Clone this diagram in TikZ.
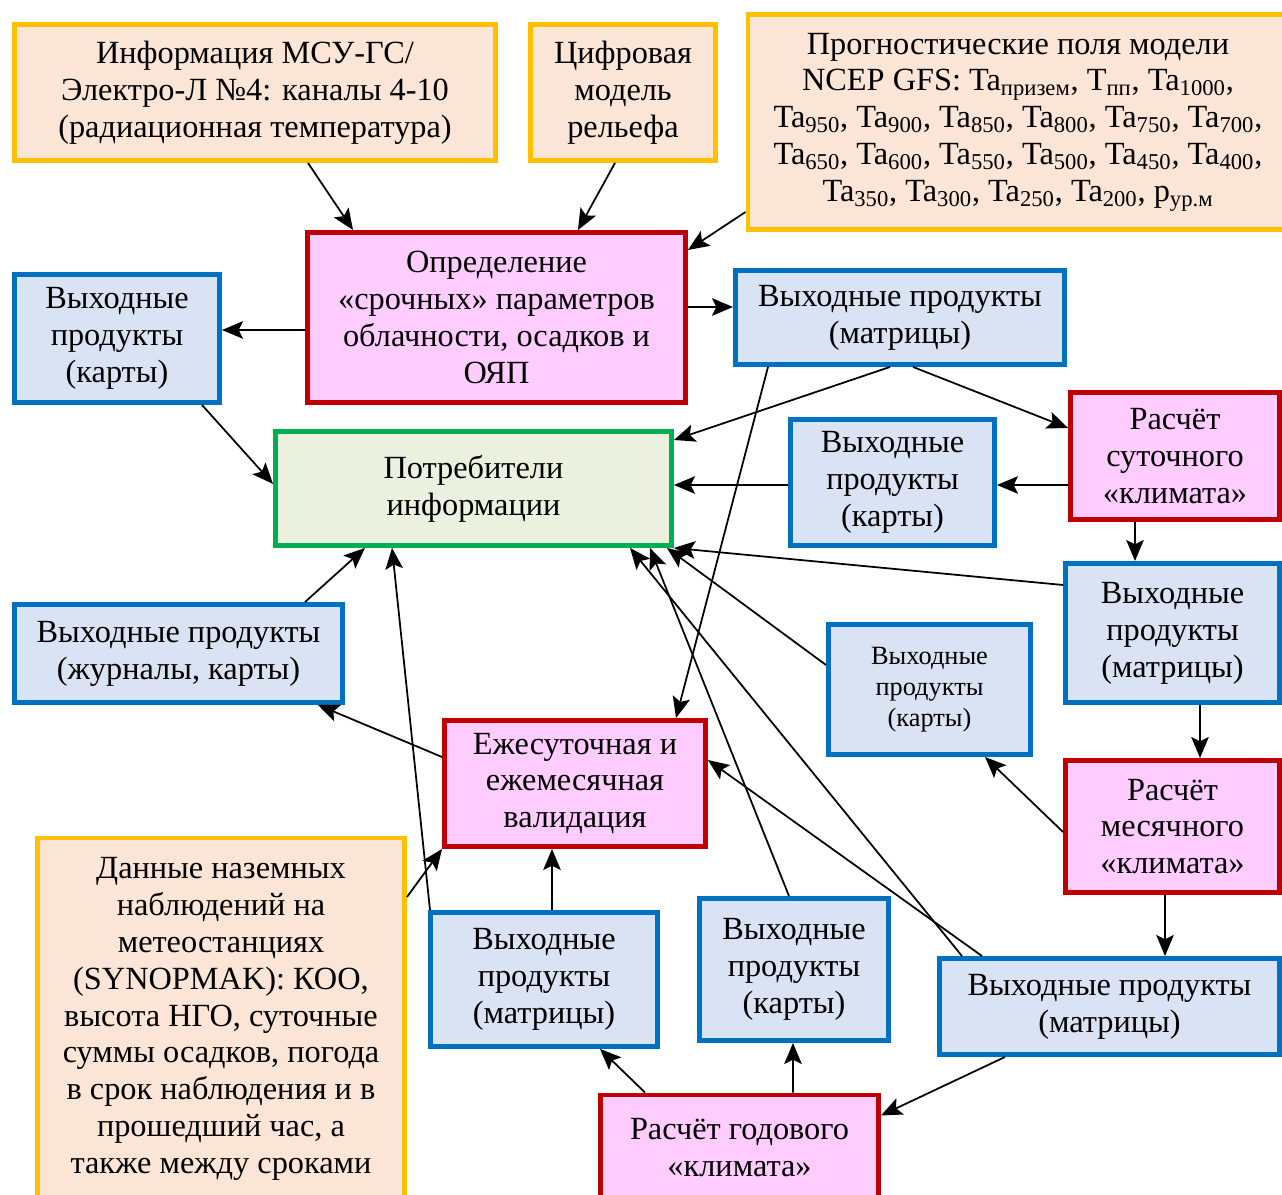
\documentclass[tikz,border=0pt]{standalone}
\usepackage{fontspec}
\setmainfont{Liberation Serif}
\usetikzlibrary{arrows.meta,calc}
\definecolor{srcline}{HTML}{FFC000}
\definecolor{srcfill}{HTML}{FBE5D6}
\definecolor{procline}{HTML}{C00000}
\definecolor{procfill}{HTML}{FFCCFF}
\definecolor{prodline}{HTML}{0070C0}
\definecolor{prodfill}{HTML}{DAE3F3}
\definecolor{userline}{HTML}{00B050}
\definecolor{userfill}{HTML}{EBF1DE}
\newcommand\subs[1]{\textsubscript{#1}}

\begin{document}
\begin{tikzpicture}[x=0.02cm,y=-0.02cm,line width=1pt,
        >={Stealth[length=12pt,width=10pt,inset=2.5pt]},
        every node/.style={align=center,inner sep=2pt,line width=2.8pt,
          font=\fontsize{18.4}{21}\selectfont},
        sz/.style 2 args={minimum width=#1*0.02cm,minimum height=#2*0.02cm},
        src/.style={draw=srcline,fill=srcfill},
        proc/.style={draw=procline,fill=procfill},
        prod/.style={draw=prodline,fill=prodfill},
        user/.style={draw=userline,fill=userfill}]
  \useasboundingbox (0,0) rectangle (1282,1195);
  % sources
  \node[src,sz={481}{136}] (msu) at (255,92.5)
    {Информация МСУ-ГС/\\Электро-Л №4: каналы 4-10\\(радиационная температура)};
  \node[src,sz={185}{136}] (dem) at (623,92.5) {Цифровая\\модель\\рельефа};
  \node[src,sz={540}{215}] (ncep) at (1018,122)
    {Прогностические поля модели\\
     NCEP GFS: Ta\subs{призем}, T\subs{пп}, Ta\subs{1000},\\
     Ta\subs{950}, Ta\subs{900}, Ta\subs{850}, Ta\subs{800}, Ta\subs{750}, Ta\subs{700},\\
     Ta\subs{650}, Ta\subs{600}, Ta\subs{550}, Ta\subs{500}, Ta\subs{450}, Ta\subs{400},\\
     Ta\subs{350}, Ta\subs{300}, Ta\subs{250}, Ta\subs{200}, p\subs{ур.м}};
  \node[src,sz={367}{362}] (obs) at (221,1019)
    {Данные наземных\\наблюдений на\\метеостанциях\\(SYNOPMAK): КОО,\\высота НГО, суточные\\
     суммы осадков, погода\\в срок наблюдения и в\\прошедший час, а\\также между сроками};
  % processing
  \node[proc,sz={378}{170}] (opr) at (496.5,317.5)
    {Определение\\«срочных» параметров\\облачности, осадков и\\ОЯП};
  \node[proc,sz={209}{127}] (day) at (1175,456) {Расчёт\\суточного\\«климата»};
  \node[proc,sz={214}{132}] (mon) at (1172.5,826.5) {Расчёт\\месячного\\«климата»};
  \node[proc,sz={278}{105}] (year) at (739.5,1147.5) {Расчёт годового\\«климата»};
  \node[proc,sz={261}{126}] (val) at (575,783.5) {Ежесуточная и\\ежемесячная\\валидация};
  % products
  \node[prod,sz={205}{128}] (outL) at (117,338.5) {Выходные\\продукты\\(карты)};
  \node[prod,sz={329}{94}] (outM1) at (900,317.5) {Выходные продукты\\(матрицы)};
  \node[prod,sz={204}{126}] (outC) at (892.5,482.5) {Выходные\\продукты\\(карты)};
  \node[prod,sz={214}{139}] (outM2) at (1172.5,633) {Выходные\\продукты\\(матрицы)};
  \node[prod,sz={328}{98}] (outJ) at (178.5,653.5) {Выходные продукты\\(журналы, карты)};
  \node[prod,sz={202}{130},font=\fontsize{15}{17.5}\selectfont] (outC2) at (929.5,689.5)
    {Выходные\\продукты\\(карты)};
  \node[prod,sz={227}{134}] (outM3) at (544,979.5) {Выходные\\продукты\\(матрицы)};
  \node[prod,sz={189}{142}] (outC3) at (794,969.5) {Выходные\\продукты\\(карты)};
  \node[prod,sz={340}{96}] (outM4) at (1109.5,1006.5) {Выходные продукты\\(матрицы)};
  % consumers
  \node[user,sz={396}{114}] (cons) at (473.5,488.5) {Потребители\\информации};
  % connectors
  \draw[->] ($(msu.south)+(53,0)$) -- ($(opr.north)+(-143.5,0)$);
  \draw[->] ($(dem.south)+(-8,0)$) -- ($(opr.north)+(81.5,0)$);
  \draw[->] ($(ncep.west)+(0,90)$) -- ($(opr.east)+(0,-67.5)$);
  \draw[->] ($(opr.west)+(0,12.5)$) -- ($(outL.east)+(0,-8.5)$);
  \draw[->] ($(opr.east)+(0,-10.5)$) -- ($(outM1.west)+(0,-10.5)$);
  \draw[->] ($(outL.south)+(85,0)$) -- ($(cons.west)+(0,-4.5)$);
  \draw[->] ($(outM1.south)+(-10,0)$) -- ($(cons.east)+(0,-48.5)$);
  \draw[->] ($(outM1.south)+(13,0)$) -- ($(day.west)+(0,-28)$);
  \draw[->] ($(outM1.south)+(-132,0)$) -- ($(val.north)+(101,0)$);
  \draw[->] ($(outC.west)+(0,2.5)$) -- ($(cons.east)+(0,-3.5)$);
  \draw[->] ($(day.west)+(0,29)$) -- ($(outC.east)+(0,2.5)$);
  \draw[->] ($(day.south)+(-40,0)$) -- ($(outM2.north)+(-37.5,0)$);
  \draw[->] ($(outM2.west)+(0,-48)$) -- (cons.south east);
  \draw[->] ($(outC2.west)+(0,-24.5)$) -- ($(cons.south)+(193.5,0)$);
  \draw[->] ($(outJ.north)+(126.5,0)$) -- ($(cons.south)+(-108.5,0)$);
  \draw[->] ($(val.west)+(0,-26.5)$) -- ($(outJ.south)+(139.5,0)$);
  \draw[->] ($(outM3.north)+(-114,0)$) -- ($(cons.south)+(-81.5,0)$);
  \draw[->] ($(obs.east)+(0,-122)$) -- (val.south west);
  \draw[->] ($(outM3.north)+(8,0)$) -- ($(val.south)+(-23,0)$);
  \draw[->] ($(outC3.north)+(-5,0)$) -- ($(cons.south)+(176.5,0)$);
  \draw[->] ($(outM4.north)+(-147.5,0)$) -- ($(cons.south)+(156.5,0)$);
  \draw[->] ($(outM4.north)+(-127.5,0)$) -- ($(val.east)+(0,-23.5)$);
  \draw[->] ($(mon.west)+(0,5.5)$) -- ($(outC2.south)+(55.5,0)$);
  \draw[->] ($(outM2.south)+(27.5,0)$) -- ($(mon.north)+(27.5,0)$);
  \draw[->] ($(mon.south)+(-7.5,0)$) -- ($(outM4.north)+(55.5,0)$);
  \draw[->] ($(outM4.south)+(-104.5,0)$) -- ($(year.east)+(0,-32)$);
  \draw[->] ($(year.north)+(-94.5,0)$) -- ($(outM3.south)+(56,0)$);
  \draw[->] ($(year.north)+(53.5,0)$) -- ($(outC3.south)+(-1,0)$);
\end{tikzpicture}
\end{document}
